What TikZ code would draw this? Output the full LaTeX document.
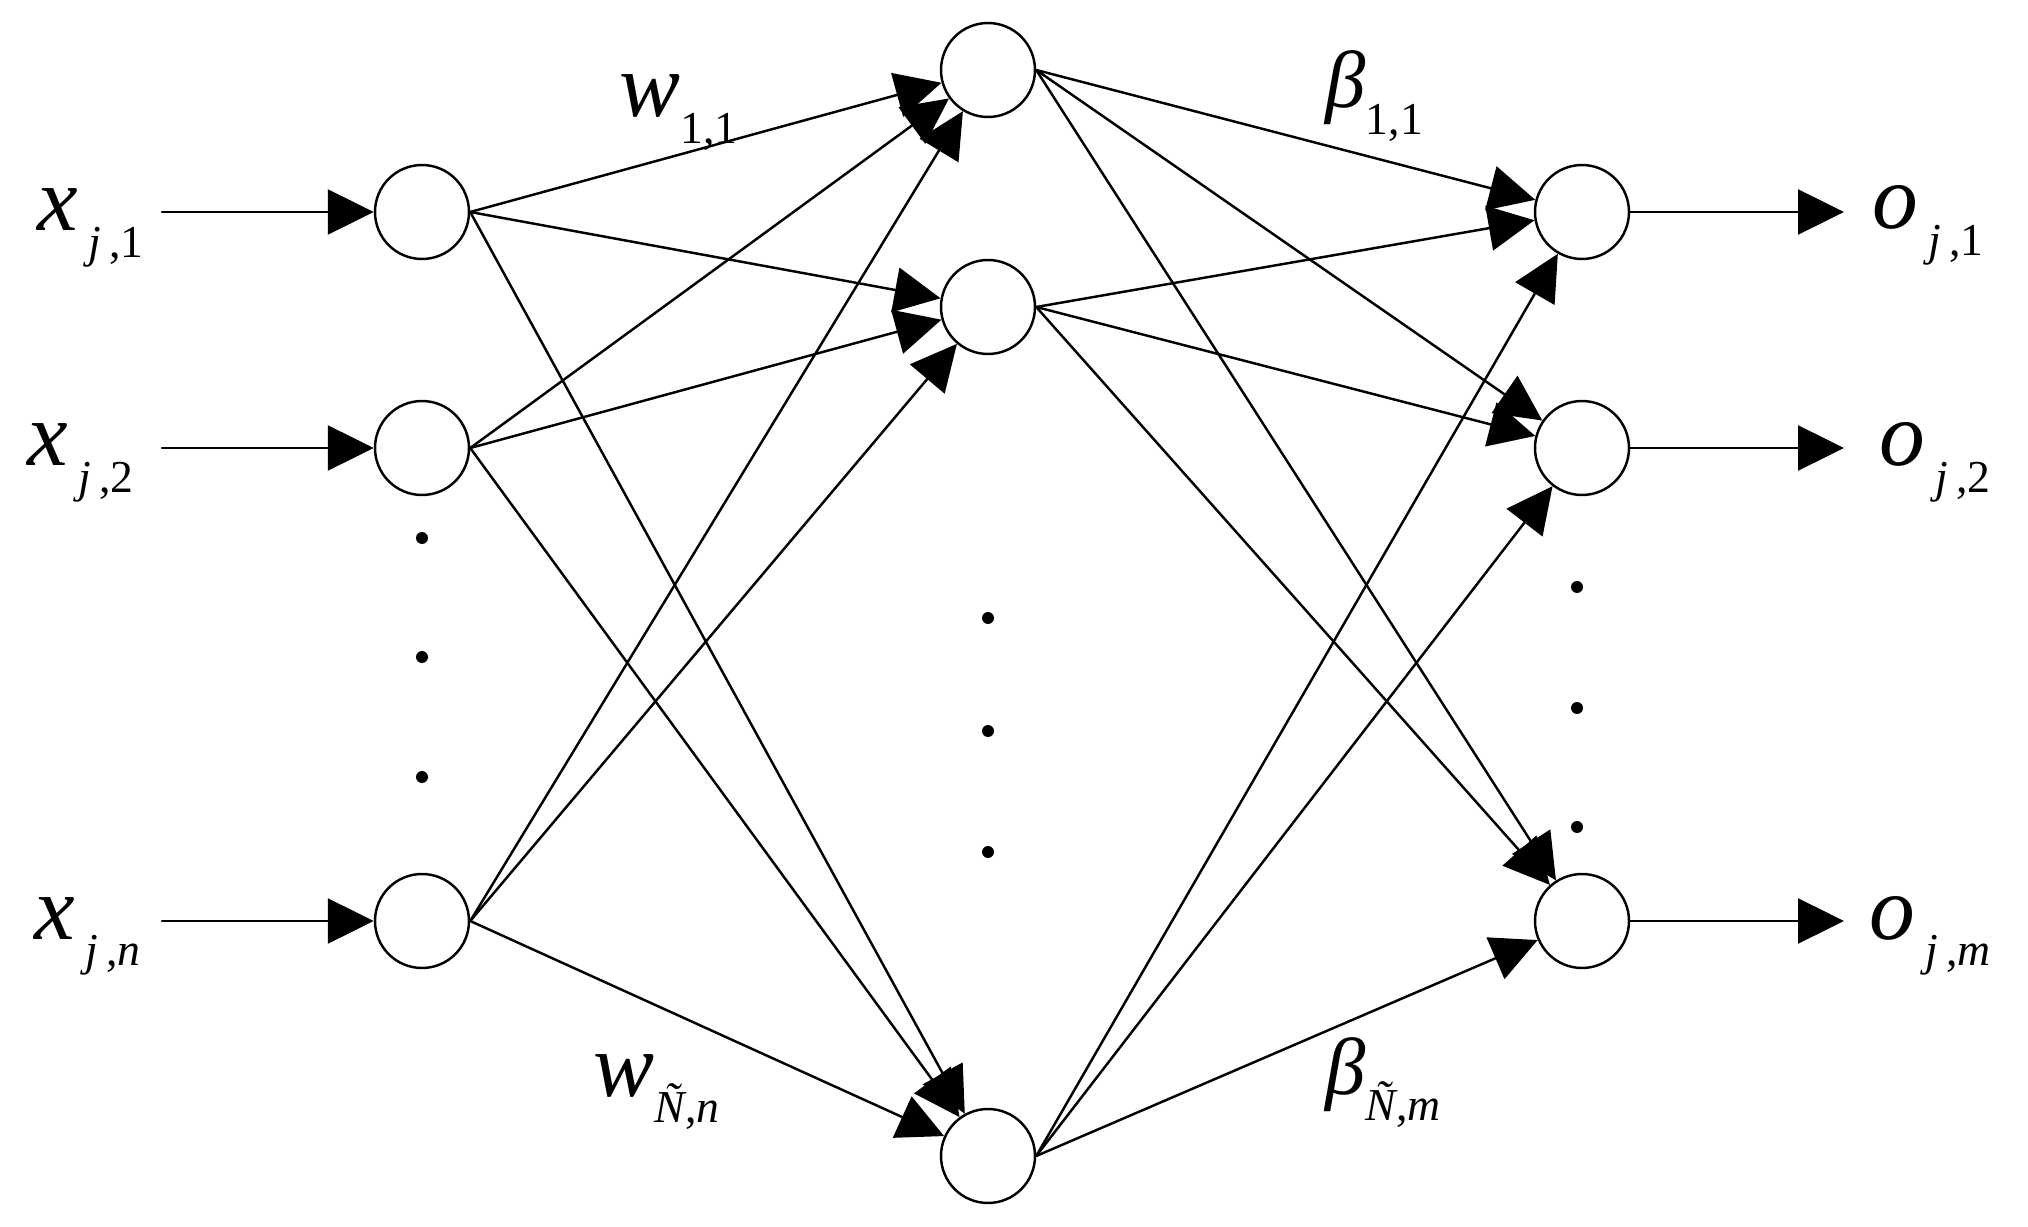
\documentclass[tikz,border=0pt]{standalone}
\usepackage{fontspec}
\setmainfont{Liberation Serif}
\usetikzlibrary{arrows.meta}
\newcommand{\lowsub}[1]{\raisebox{-7.5pt}{\fontsize{13}{13}\selectfont #1}}

\begin{document}
\begin{tikzpicture}[line cap=round,
    neuron/.style={draw, circle, line width=0.7pt, minimum size=0.94cm, inner sep=0pt},
    link/.style={line width=0.7pt, -{Triangle[length=0.46cm, width=0.45cm]}},
    lbl/.style={anchor=base west, inner sep=0pt, font=\fontsize{26}{26}\selectfont}]

    \useasboundingbox (0,0) rectangle (20.28,-12.27);

    % input layer
    \node[neuron] (i1) at (4.22,-2.12) {};
    \node[neuron] (i2) at (4.22,-4.48) {};
    \node[neuron] (i3) at (4.22,-9.21) {};
    % hidden layer
    \node[neuron] (h1) at (9.88,-0.70) {};
    \node[neuron] (h2) at (9.88,-3.07) {};
    \node[neuron] (h3) at (9.88,-11.56) {};
    % output layer
    \node[neuron] (o1) at (15.82,-2.12) {};
    \node[neuron] (o2) at (15.82,-4.48) {};
    \node[neuron] (o3) at (15.82,-9.21) {};

    \coordinate (in1) at (1.62,-2.12);
    \coordinate (in2) at (1.62,-4.48);
    \coordinate (in3) at (1.62,-9.21);
    \coordinate (out1) at (18.44,-2.12);
    \coordinate (out2) at (18.44,-4.48);
    \coordinate (out3) at (18.44,-9.21);

    \node[lbl] (x1) at (0.37,-2.31) {\textit{x}\lowsub{\hspace{3pt}\textit{j}\,,1}};
    \node[lbl] (x2) at (0.27,-4.66) {\textit{x}\lowsub{\hspace{3pt}\textit{j}\,,2}};
    \node[lbl] (x3) at (0.34,-9.39) {\textit{x}\lowsub{\hspace{3pt}\textit{j}\,,\textit{n}}};
    \node[lbl] (y1) at (18.72,-2.29) {\textit{o}\lowsub{\hspace{3pt}\textit{j}\,,1}};
    \node[lbl] (y2) at (18.79,-4.66) {\textit{o}\lowsub{\hspace{3pt}\textit{j}\,,2}};
    \node[lbl] (y3) at (18.69,-9.39) {\textit{o}\lowsub{\hspace{3pt}\textit{j}\,,\textit{m}}};
    \node[lbl] (w11) at (6.19,-1.17) {\textit{w}\lowsub{1,1}};
    \node[lbl] (wNn) at (5.93,-10.96) {\textit{w}\lowsub{\textit{Ñ},\textit{n}}};
    \node[lbl] (b11) at (13.25,-1.08) {\fontsize{23}{23}\selectfont\textit{β}\lowsub{1,1}};
    \node[lbl] (bNm) at (13.25,-10.94) {\fontsize{23}{23}\selectfont\textit{β}\lowsub{\textit{Ñ},\textit{m}}};

    \draw[link] (in1) -- (i1);
    \draw[link] (in2) -- (i2);
    \draw[link] (in3) -- (i3);

    \draw[link] (i1.east) -- (h1);
    \draw[link] (i1.east) -- (h2);
    \draw[link] (i1.east) -- (h3);
    \draw[link] (i2.east) -- (h1);
    \draw[link] (i2.east) -- (h2);
    \draw[link] (i2.east) -- (h3);
    \draw[link] (i3.east) -- (h1);
    \draw[link] (i3.east) -- (h2);
    \draw[link] (i3.east) -- (h3);

    \draw[link] (h1.east) -- (o1);
    \draw[link] (h1.east) -- (o2);
    \draw[link] (h1.east) -- (o3);
    \draw[link] (h2.east) -- (o1);
    \draw[link] (h2.east) -- (o2);
    \draw[link] (h2.east) -- (o3);
    \draw[link] (h3.east) -- (o1);
    \draw[link] (h3.east) -- (o2);
    \draw[link] (h3.east) -- (o3);

    \draw[link] (o1) -- (out1);
    \draw[link] (o2) -- (out2);
    \draw[link] (o3) -- (out3);

    % dots between the nodes
    \fill (4.22,-5.38) circle (0.06);
    \fill (4.22,-6.57) circle (0.06);
    \fill (4.22,-7.77) circle (0.06);
    \fill (9.88,-6.18) circle (0.06);
    \fill (9.88,-7.31) circle (0.06);
    \fill (9.88,-8.52) circle (0.06);
    \fill (15.77,-5.87) circle (0.06);
    \fill (15.77,-7.08) circle (0.06);
    \fill (15.77,-8.27) circle (0.06);

\end{tikzpicture}
\end{document}
